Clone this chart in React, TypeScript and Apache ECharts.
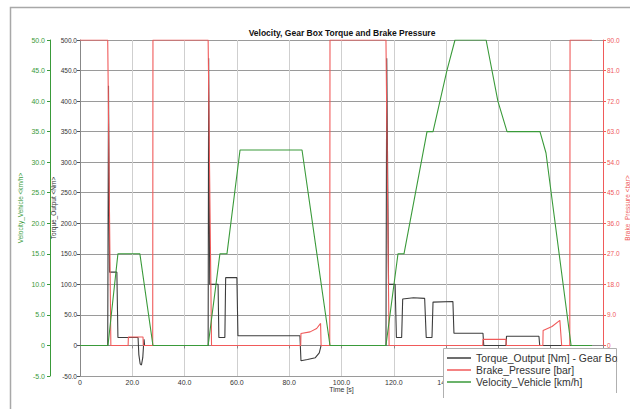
import React, { useEffect, useRef } from "react";
import * as echarts from "echarts";

const chartTitle = "Velocity, Gear Box Torque and Brake Pressure";
const seriesNames = ["Torque_Output [Nm] - Gear Box", "Brake_Pressure [bar]", "Velocity_Vehicle [km/h]"];

const torqueTime = [0, 10.6, 10.9, 11.3, 14.1, 14.5, 22.2, 22.5, 23.0, 23.5, 24.0, 24.3, 24.5, 24.7, 49.0, 49.2, 49.6, 52.8, 53.1, 55.4, 55.7, 60.0, 60.4, 84.1, 84.5, 87.0, 90.0, 91.5, 92.2, 117.0, 117.3, 118.0, 120.5, 121.0, 123.0, 123.4, 127.5, 131.8, 132.4, 134.6, 135.0, 142.6, 143.0, 154.1, 154.4, 162.9, 163.1, 175.5, 175.8, 195.8];
const torqueNm = [0, 0, 425, 120, 120, 13, 13, -15, -30, -32, -20, 0, 10, 0, 0, 470, 100, 100, 13, 13, 111, 111, 16, 16, -25, -23, -20, -12, 0, 0, 470, 100, 100, 13, 13, 76, 78, 77, 13, 13, 71, 72, 20, 20, 0, 0, 15, 15, 0, 0];

const brakeTime = [0, 10.6, 11.8, 18.4, 18.5, 24.1, 24.2, 27.8, 27.9, 49.0, 50.3, 84.4, 84.5, 88.0, 90.5, 92.0, 92.2, 95.5, 95.6, 117.0, 118.2, 154.0, 154.1, 162.9, 163.0, 177.0, 177.1, 180.5, 183.5, 184.2, 187.3, 187.4, 195.8];
const brakeBar = [90, 90, 0, 0, 2.5, 2.5, 0, 0, 90, 90, 0, 0, 3.5, 4.0, 5.0, 6.5, 0, 0, 90, 90, 0, 0, 1.8, 1.8, 0, 0, 4.4, 5.6, 7.4, 0, 0, 90, 90];

const velTime = [0, 10.7, 14.5, 22.9, 27.9, 49.0, 53.5, 56.2, 61.2, 84.9, 95.6, 117.0, 121.6, 123.9, 132.7, 135.0, 140.3, 143.4, 155.3, 159.8, 163.3, 175.9, 178.2, 187.8, 195.8];
const velKmh = [0, 0, 15, 15, 0, 0, 15, 15, 32, 32, 0, 0, 15, 15, 35, 35, 45, 50, 50, 40, 35, 35, 31.5, 0, 0];

const COL_T = "#3c3c3c";
const COL_B = "#f05a5a";
const COL_V = "#3a9a3a";

const zip = (a: number[], b: number[]) => a.map((x, i) => [x, b[i]]);
const fmt = (v: number) => (v === 0 ? "0" : v.toFixed(1));

export default function App() {
  const ref = useRef<HTMLDivElement>(null);
  useEffect(() => {
    if (!ref.current) return;
    const chart = echarts.init(ref.current, null, { renderer: "svg" });
    const font = "'Liberation Sans', Arial, sans-serif";
    chart.setOption({
      animation: false,
      textStyle: { fontFamily: font },
      grid: { left: 80, top: 40, right: 27, bottom: 33, containLabel: false, outerBoundsMode: "none" },
      xAxis: {
        type: "value",
        min: 0,
        max: 200,
        interval: 20,
        name: "Time [s]",
        nameLocation: "middle",
        nameGap: 10,
        nameMoveOverlap: false,
        nameTextStyle: { fontSize: 7, color: "#333", fontFamily: font },
        axisLine: { show: true, lineStyle: { color: "#888", width: 1 } },
        axisTick: { show: true, length: 3, lineStyle: { color: "#888" } },
        axisLabel: {
          fontSize: 7,
          color: "#333",
          margin: 3,
          fontFamily: font,
          formatter: (v: number) => (v > 140 ? "" : fmt(v)),
        },
        splitLine: { show: true, lineStyle: { color: "#cfcfcf", width: 1 } },
      },
      yAxis: [
        {
          type: "value",
          position: "left",
          min: -50,
          max: 500,
          interval: 50,
          name: "Torque_Output <Nm>",
          nameLocation: "middle",
          nameGap: 23.5,
          nameRotate: 90,
          nameMoveOverlap: false,
          nameTextStyle: { fontSize: 6.5, color: "#333", fontFamily: font },
          axisLine: { show: true, lineStyle: { color: "#888" } },
          axisTick: { show: true, length: 3, lineStyle: { color: "#555" } },
          axisLabel: { fontSize: 6.5, color: "#333", margin: 3, formatter: fmt, fontFamily: font },
          splitLine: { show: true, lineStyle: { color: "#9a9a9a", width: 1 } },
        },
        {
          type: "value",
          position: "left",
          offset: 30,
          min: -5,
          max: 50,
          interval: 5,
          name: "Velocity_Vehicle <km/h>",
          nameLocation: "middle",
          nameGap: 26,
          nameRotate: 90,
          nameMoveOverlap: false,
          nameTextStyle: { fontSize: 6.5, color: COL_V, fontFamily: font },
          axisLine: { show: true, lineStyle: { color: COL_V } },
          axisTick: { show: true, length: 3, lineStyle: { color: COL_V } },
          axisLabel: { fontSize: 7, color: COL_V, margin: 5, formatter: fmt, fontFamily: font },
          splitLine: { show: false },
        },
        {
          type: "value",
          position: "right",
          min: -9,
          max: 90,
          interval: 9,
          name: "Brake_Pressure <bar>",
          nameLocation: "middle",
          nameGap: 21,
          nameRotate: 90,
          nameMoveOverlap: false,
          nameTextStyle: { fontSize: 6.5, color: COL_B, fontFamily: font },
          axisLine: { show: true, lineStyle: { color: COL_B } },
          axisTick: { show: true, length: 3, lineStyle: { color: COL_B } },
          axisLabel: {
            fontSize: 6.5,
            color: COL_B,
            margin: 4,
            fontFamily: font,
            formatter: (v: number) => (v < 0 ? "" : fmt(v)),
          },
          splitLine: { show: false },
        },
      ],
      legend: {
        orient: "vertical",
        left: 447,
        top: 352,
        padding: 0,
        itemGap: 0,
        itemWidth: 24,
        itemHeight: 1.5,
        icon: "rect",
        z: 6,
        textStyle: { fontSize: 10.4, color: "#333", lineHeight: 12, fontFamily: font },
        data: seriesNames,
      },
      graphic: [
        {
          type: "rect",
          z: -10,
          shape: { x: 10.5, y: 7.5, width: 700, height: 500 },
          style: { fill: "none", stroke: "#a8a8a8", lineWidth: 1.5 },
        },
        {
          type: "text",
          z: 5,
          x: 342,
          y: 33,
          style: {
            text: chartTitle,
            fontSize: 8.5,
            fontWeight: "bold",
            fill: "#111",
            align: "center",
            verticalAlign: "middle",
            fontFamily: font,
          },
        },
        {
          type: "rect",
          z: 5,
          shape: { x: 443, y: 348, width: 174, height: 61 },
          style: { fill: "#fff", stroke: "none" },
        },
        {
          type: "polyline",
          z: 5,
          shape: { points: [[443.5, 398], [443.5, 348.5], [616.5, 348.5], [616.5, 393]] },
          style: { fill: "none", stroke: "#b0b0b0", lineWidth: 1 },
        },
        {
          type: "rect",
          z: 7,
          shape: { x: 617.5, y: 349, width: 13, height: 46 },
          style: { fill: "#fff", stroke: "none" },
        },
      ],
      series: [
        {
          name: seriesNames[0],
          type: "line",
          yAxisIndex: 0,
          data: zip(torqueTime, torqueNm),
          showSymbol: false,
          lineStyle: { color: COL_T, width: 1.1 },
          itemStyle: { color: COL_T },
          z: 2,
        },
        {
          name: seriesNames[1],
          type: "line",
          yAxisIndex: 2,
          data: zip(brakeTime, brakeBar),
          showSymbol: false,
          lineStyle: { color: COL_B, width: 1.1 },
          itemStyle: { color: COL_B },
          z: 3,
        },
        {
          name: seriesNames[2],
          type: "line",
          yAxisIndex: 1,
          data: zip(velTime, velKmh),
          showSymbol: false,
          lineStyle: { color: COL_V, width: 1.1 },
          itemStyle: { color: COL_V },
          z: 4,
        },
      ],
    });
    return () => chart.dispose();
  }, []);
  return (
    <div
      ref={ref}
      style={{ position: "fixed", left: 0, top: 0, width: 630, height: 409, background: "#fff" }}
    />
  );
}
